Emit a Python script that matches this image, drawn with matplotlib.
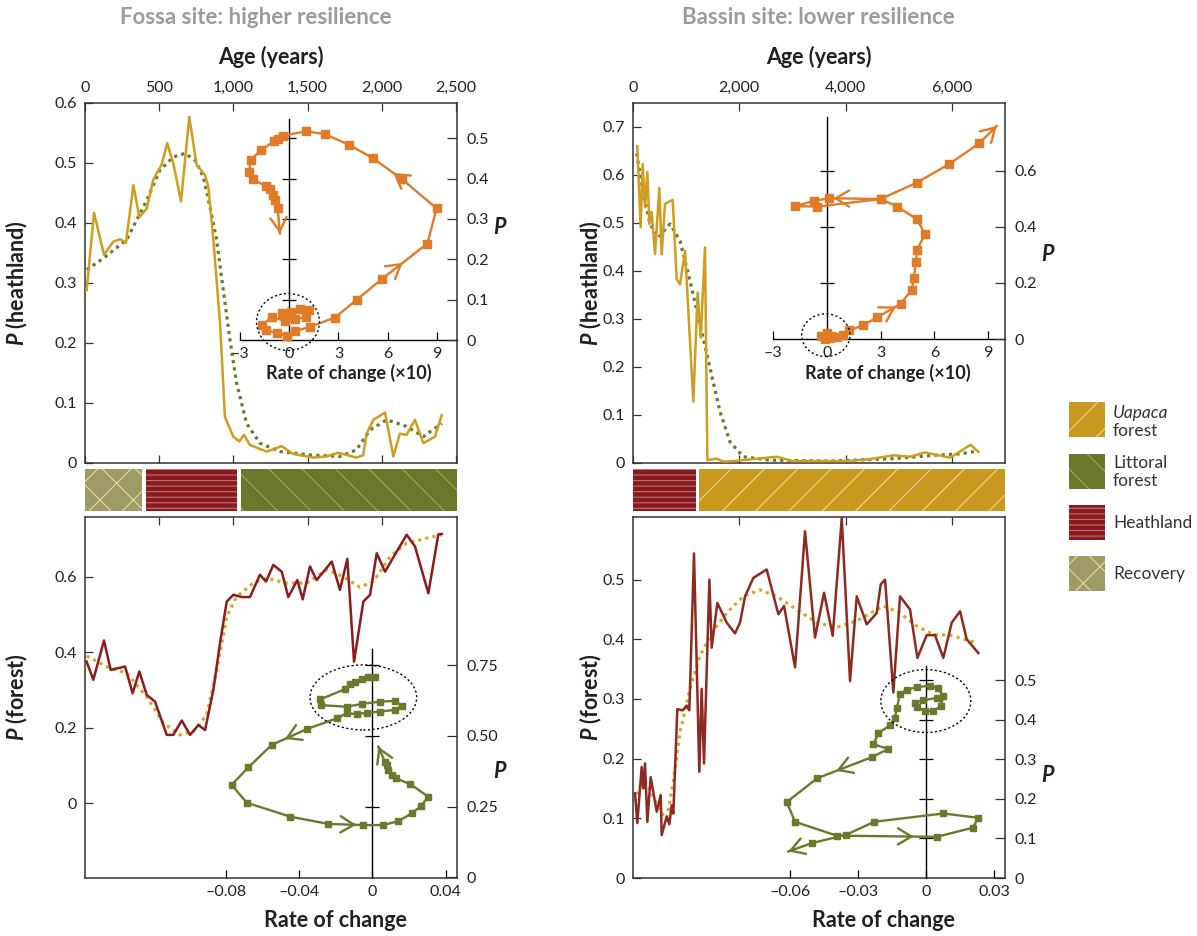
import numpy as np
import matplotlib
matplotlib.use('Agg')
import matplotlib.pyplot as plt
from matplotlib.patches import Ellipse, Rectangle
from matplotlib.ticker import FuncFormatter, FixedLocator, FixedFormatter

plt.rcParams['font.family'] = ['Lato', 'DejaVu Sans']
plt.rcParams['mathtext.fontset'] = 'custom'
plt.rcParams['mathtext.it'] = 'Lato:italic:bold'
plt.rcParams['mathtext.rm'] = 'Lato:bold'
plt.rcParams['hatch.linewidth'] = 0.8

# ---------------- DATA ----------------
# Fossa site: P(heathland) vs age
fossa_heath_age = [11, 61, 128, 191, 236, 276, 326, 366, 416, 460, 516, 554, 595, 647, 703, 752, 808, 831,
                   865, 910, 943, 999, 1040, 1071, 1112, 1224, 1325, 1404, 1538, 1628, 1707, 1830, 1875,
                   1898, 1943, 2022, 2078, 2122, 2167, 2224, 2280, 2359, 2404]
fossa_heath_p = [0.288, 0.417, 0.347, 0.369, 0.373, 0.367, 0.463, 0.41, 0.424, 0.472, 0.497, 0.533, 0.5,
                 0.436, 0.577, 0.497, 0.48, 0.461, 0.372, 0.233, 0.077, 0.044, 0.036, 0.047, 0.03, 0.019,
                 0.028, 0.015, 0.009, 0.011, 0.017, 0.009, 0.013, 0.049, 0.072, 0.084, 0.011, 0.049, 0.047,
                 0.072, 0.033, 0.044, 0.08]
fossa_heath_smooth_age = [11, 123, 281, 416, 505, 595, 674, 741, 797, 842, 887, 932, 977, 1022, 1089, 1179,
                          1314, 1538, 1718, 1830, 1920, 2033, 2167, 2280, 2404]
fossa_heath_smooth_p = [0.322, 0.341, 0.372, 0.438, 0.488, 0.51, 0.516, 0.505, 0.477, 0.427, 0.372, 0.288,
                        0.205, 0.133, 0.066, 0.033, 0.019, 0.013, 0.011, 0.022, 0.055, 0.072, 0.061, 0.044,
                        0.066]
# Fossa inset: rate of change (x10) vs P(heathland)
fossa_heath_rate = [-0.46, 0.08, 0.65, 1.2, 1.0, 0.35, -0.26, -1.07, -1.68, -1.42, -0.77, -0.16, 0.35, 1.26,
                    2.79, 4.11, 5.67, 8.42, 8.99, 6.89, 5.12, 3.66, 2.18, 1.02, -0.37, -0.67, -0.91, -1.74,
                    -2.34, -2.44, -2.23, -1.42, -1.18, -1.01, -0.87, -0.71, -0.57]
fossa_heath_phase_p = [0.068, 0.069, 0.078, 0.074, 0.058, 0.052, 0.048, 0.057, 0.037, 0.025, 0.017, 0.011,
                       0.022, 0.033, 0.056, 0.1, 0.152, 0.239, 0.326, 0.398, 0.45, 0.483, 0.51, 0.517, 0.506,
                       0.499, 0.493, 0.47, 0.446, 0.417, 0.399, 0.381, 0.373, 0.359, 0.347, 0.328, 0.264]
fossa_heath_arrows = [(16, 0.45), (19, 0.31)]

# Fossa site: P(forest) vs age
fossa_forest_age = [11, 56, 128, 173, 270, 321, 366, 416, 472, 551, 595, 652, 708, 764, 809, 865, 910, 955,
                    1000, 1056, 1112, 1179, 1220, 1269, 1326, 1370, 1431, 1467, 1516, 1561, 1663, 1718, 1768,
                    1813, 1876, 1921, 1966, 2022, 2100, 2168, 2224, 2314, 2381, 2404]
fossa_forest_p = [0.375, 0.327, 0.431, 0.353, 0.362, 0.291, 0.349, 0.287, 0.269, 0.181, 0.181, 0.219, 0.181,
                  0.207, 0.194, 0.3, 0.424, 0.534, 0.552, 0.546, 0.546, 0.605, 0.587, 0.631, 0.613, 0.546,
                  0.591, 0.54, 0.627, 0.591, 0.64, 0.565, 0.647, 0.375, 0.534, 0.552, 0.662, 0.613, 0.666,
                  0.711, 0.68, 0.556, 0.712, 0.713]
fossa_forest_smooth_age = [11, 146, 281, 416, 528, 640, 730, 820, 888, 955, 1022, 1134, 1224, 1359, 1494,
                           1629, 1741, 1853, 1943, 2056, 2168, 2303, 2404]
fossa_forest_smooth_p = [0.39, 0.362, 0.344, 0.282, 0.212, 0.181, 0.19, 0.234, 0.353, 0.494, 0.547, 0.583,
                         0.596, 0.583, 0.583, 0.618, 0.6, 0.572, 0.587, 0.653, 0.689, 0.702, 0.711]
fossa_forest_rate = [0.0015, -0.0022, -0.0058, -0.0094, -0.0122, -0.0149, -0.0285, -0.0282, -0.014, -0.0058,
                     0.0042, 0.0124, 0.016, 0.0124, 0.0042, -0.003, -0.0085, -0.014, -0.0194, -0.0358,
                     -0.0549, -0.0676, -0.0767, -0.0685, -0.0449, -0.024, -0.0049, 0.006, 0.0142, 0.0215,
                     0.0264, 0.0306, 0.0206, 0.0129, 0.0106, 0.0087, 0.0079, 0.0069, 0.0033]
fossa_forest_phase_p = [0.709, 0.707, 0.70, 0.692, 0.683, 0.665, 0.629, 0.609, 0.603, 0.613, 0.621, 0.624,
                        0.606, 0.592, 0.586, 0.582, 0.577, 0.58, 0.562, 0.524, 0.468, 0.389, 0.327, 0.264,
                        0.215, 0.189, 0.185, 0.185, 0.199, 0.226, 0.252, 0.285, 0.33, 0.35, 0.362, 0.38,
                        0.397, 0.409, 0.462]
fossa_forest_arrows = [(19, 0.62), (25, 0.8)]

# Bassin site: P(heathland) vs age
bassin_heath_age = [81, 144, 182, 226, 270, 308, 351, 414, 496, 540, 602, 747, 822, 885, 979, 1135, 1217,
                    1274, 1355, 1399, 1575, 1700, 1900, 2328, 2704, 3000, 4022, 4460, 4899, 5213, 5495, 5966,
                    6355, 6499]
bassin_heath_p = [0.66, 0.491, 0.623, 0.533, 0.606, 0.498, 0.523, 0.435, 0.573, 0.435, 0.54, 0.548, 0.383,
                  0.372, 0.442, 0.128, 0.355, 0.261, 0.449, 0.006, 0.009, 0.003, 0.004, 0.009, 0.013, 0.004,
                  0.004, 0.008, 0.016, 0.013, 0.022, 0.011, 0.038, 0.023]
bassin_heath_smooth_age = [69, 194, 320, 477, 696, 885, 1073, 1261, 1449, 1637, 1826, 2076, 2565, 3695,
                           4899, 5652, 6154, 6499]
bassin_heath_smooth_p = [0.645, 0.561, 0.498, 0.47, 0.498, 0.463, 0.379, 0.289, 0.198, 0.107, 0.044, 0.013,
                         0.006, 0.004, 0.009, 0.016, 0.019, 0.025]
bassin_heath_rate = [-0.3, 0.0, 0.25, -0.1, 0.2, 0.56, 0.93, 1.26, 2.04, 2.82, 4.12, 4.73, 4.86, 4.96, 5.04,
                     5.47, 5.01, 3.93, 3.0, 0.14, -0.71, -1.76, -0.52, 3.0, 5.01, 6.83, 8.5, 9.47]
bassin_heath_phase_p = [0.012, 0.022, 0.012, 0.0, 0.004, 0.009, 0.015, 0.031, 0.05, 0.078, 0.126, 0.175,
                        0.219, 0.274, 0.318, 0.375, 0.428, 0.472, 0.499, 0.502, 0.492, 0.474, 0.472, 0.499,
                        0.557, 0.624, 0.698, 0.759]
bassin_heath_arrows = [(9, 0.8), (18, 0.92)]

# Bassin site: P(forest) vs age
bassin_forest_age = [38, 81, 163, 194, 226, 270, 333, 446, 521, 540, 634, 684, 728, 759, 834, 935, 1010,
                     1060, 1148, 1248, 1292, 1336, 1437, 1481, 1587, 1763, 1920, 2014, 2108, 2265, 2516,
                     2735, 2843, 3049, 3237, 3425, 3595, 3758, 3928, 4084, 4210, 4398, 4586, 4661, 4743,
                     4899, 5025, 5213, 5351, 5527, 5683, 5840, 5998, 6154, 6280, 6499]
bassin_forest_p = [0.142, 0.092, 0.186, 0.15, 0.192, 0.094, 0.169, 0.111, 0.139, 0.072, 0.103, 0.09, 0.122,
                   0.108, 0.283, 0.281, 0.289, 0.281, 0.544, 0.178, 0.317, 0.192, 0.5, 0.386, 0.461, 0.428,
                   0.41, 0.428, 0.472, 0.503, 0.517, 0.442, 0.456, 0.353, 0.581, 0.403, 0.478, 0.406, 0.603,
                   0.33, 0.472, 0.425, 0.444, 0.492, 0.5, 0.311, 0.472, 0.45, 0.369, 0.407, 0.407, 0.369,
                   0.428, 0.447, 0.4, 0.377]
bassin_forest_smooth_age = [38, 163, 320, 508, 634, 759, 885, 1073, 1261, 1481, 1763, 2076, 2390, 2704,
                            3080, 3457, 3833, 4210, 4712, 5025, 5339, 5652, 5966, 6468]
bassin_forest_smooth_p = [0.128, 0.161, 0.15, 0.111, 0.1, 0.161, 0.244, 0.317, 0.372, 0.411, 0.444, 0.472,
                          0.483, 0.472, 0.45, 0.428, 0.42, 0.431, 0.456, 0.444, 0.422, 0.408, 0.407, 0.394]
bassin_forest_rate = [0.0047, -0.0012, -0.0049, -0.0041, -0.0004, 0.0032, 0.0065, 0.0076, 0.0054, 0.0018,
                      -0.0041, -0.0085, -0.0115, -0.0129, -0.0137, -0.0159, -0.021, -0.0232, -0.0166, -0.024,
                      -0.048, -0.0614, -0.0578, -0.0394, 0.0047, 0.0206, 0.0231, 0.0076, -0.0229, -0.0353,
                      -0.0504, -0.0607]
bassin_forest_phase_p = [0.455, 0.449, 0.443, 0.432, 0.422, 0.422, 0.434, 0.459, 0.479, 0.486, 0.482, 0.476,
                         0.464, 0.43, 0.405, 0.386, 0.366, 0.338, 0.326, 0.305, 0.252, 0.192, 0.142, 0.107,
                         0.104, 0.127, 0.152, 0.163, 0.142, 0.109, 0.088, 0.067]
bassin_forest_arrows = [(19, 0.65), (23, 0.77)]

# Vegetation phases (start age, end age, type)
fossa_phases = [(0, 382, 'Recovery'), (411, 1022, 'Heathland'), (1051, 2507, 'Littoral forest')]
bassin_phases = [(0, 1180, 'Heathland'), (1241, 7000, 'Uapaca forest')]

legend_items = ['Uapaca forest', 'Littoral forest', 'Heathland', 'Recovery']

# ---------------- STYLE ----------------
W, H = 1197, 936
GOLD = '#CF9D1F'
OLIVE = '#687A2B'
DRED = '#8A1C1E'
ORANGE = '#E07B2A'
FRAME = '#333333'
TXT = '#231f20'
LAB = 15.5
phase_style = {
    'Uapaca forest': dict(fc='#C9991F', hatch='/', hc='#EBD59A'),
    'Littoral forest': dict(fc='#6A782B', hatch='\\', hc='#9AA66A'),
    'Heathland': dict(fc='#8A1A1E', hatch='---', hc='#B77476'),
    'Recovery': dict(fc='#9E9B66', hatch='x', hc='#E0DC9C'),
}
EN = '\u2013'


def rect(l, t, r, b):
    return [l / W, 1 - b / H, (r - l) / W, (b - t) / H]


def pfmt(v, pos=None):
    return '0' if abs(v) < 1e-12 else f'{v:g}'


def style_main(ax, xlim, ylim, xticks, yticks, top_labels, bottom_ticks):
    ax.set_xlim(xlim)
    ax.set_ylim(ylim)
    for s in ax.spines.values():
        s.set_color(FRAME)
        s.set_linewidth(1.1)
    ax.set_xticks(xticks)
    ax.xaxis.set_major_formatter(FuncFormatter(lambda v, p: f'{int(round(v)):,}'))
    ax.set_yticks(yticks)
    ax.yaxis.set_major_formatter(FuncFormatter(pfmt))
    ax.tick_params(axis='both', direction='in', length=6, width=0.9, color=FRAME,
                   labelcolor=TXT, labelsize=11.5, pad=6)
    ax.tick_params(axis='x', top=True, bottom=bottom_ticks, labeltop=top_labels, labelbottom=False)
    ax.tick_params(axis='y', left=True, right=False)


def overlay(rpos, xlim, ylim, xticks, xlabels, rticks, rlabels, vtop, hline_left, cross_ticks):
    axo = fig.add_axes(rpos, facecolor='none')
    axo.set_xlim(xlim)
    axo.set_ylim(ylim)
    axo.spines['top'].set_visible(False)
    axo.spines['right'].set_visible(False)
    axo.spines['left'].set_position(('data', 0))
    axo.spines['left'].set_bounds(0, vtop)
    axo.spines['left'].set_color('black')
    axo.spines['left'].set_linewidth(1.0)
    if hline_left is not None:
        axo.spines['bottom'].set_position(('data', 0))
        axo.spines['bottom'].set_bounds(hline_left, xlim[1])
        axo.spines['bottom'].set_color('black')
        axo.spines['bottom'].set_linewidth(1.0)
    else:
        axo.spines['bottom'].set_visible(False)
    axo.xaxis.set_major_locator(FixedLocator(xticks))
    axo.xaxis.set_major_formatter(FixedFormatter(xlabels))
    axo.tick_params(axis='x', direction='in', length=6, width=0.9, color='black',
                    labelcolor=TXT, labelsize=11.5, pad=5)
    axo.set_yticks(cross_ticks)
    axo.tick_params(axis='y', direction='inout', length=10, width=0.9, color='black',
                    labelleft=False, right=False)
    axr = axo.twinx()
    axr.set_ylim(ylim)
    for s in axr.spines.values():
        s.set_visible(False)
    axr.yaxis.set_major_locator(FixedLocator(rticks))
    axr.yaxis.set_major_formatter(FixedFormatter(rlabels))
    axr.tick_params(axis='y', direction='in', length=7, width=0.9, color=FRAME,
                    labelcolor=TXT, labelsize=11.5, pad=7)
    return axo


def trajectory(ax, xs, ys, color, arrows, ms):
    ax.plot(xs, ys, color=color, lw=1.7, solid_joinstyle='round', zorder=3)
    ax.plot(xs[:-1], ys[:-1], 's', color=color, ms=ms, zorder=4)
    segs = list(arrows) + [(len(xs) - 2, 1.0)]
    for i, f in segs:
        x0, y0, x1, y1 = xs[i], ys[i], xs[i + 1], ys[i + 1]
        tx, ty = x0 + f * (x1 - x0), y0 + f * (y1 - y0)
        bx, by = tx - 0.05 * (x1 - x0), ty - 0.05 * (y1 - y0)
        ax.annotate('', xy=(tx, ty), xytext=(bx, by), zorder=5,
                    arrowprops=dict(arrowstyle='->,head_length=0.75,head_width=0.45', color=color,
                                    lw=1.7, shrinkA=0, shrinkB=0, mutation_scale=13))


def ring(ax, cx, cy, w, h):
    ax.add_patch(Ellipse((cx, cy), w, h, fill=False, ls=(0, (1.5, 1.8)), lw=1.0, color='black', zorder=6))


def phase_band(rpos, xlim, phases):
    axb = fig.add_axes(rpos)
    axb.set_xlim(xlim)
    axb.set_ylim(-0.5, 0.5)
    axb.axis('off')
    for s, e, name in phases:
        st = phase_style[name]
        axb.barh(0, e - s, left=s, height=1, color=st['fc'], hatch=st['hatch'],
                 edgecolor=st['hc'], linewidth=0)


def ylab(ax, x, text):
    ax.text(x, 0.5, text, transform=ax.transAxes, rotation=90, ha='center', va='center',
            fontsize=LAB, fontweight='bold', color=TXT)


fig = plt.figure(figsize=(W / 100, H / 100), dpi=100)

# ===== Fossa top =====
ax1 = fig.add_axes(rect(85, 103, 457, 463))
style_main(ax1, (0, 2507), (0, 0.6), [0, 500, 1000, 1500, 2000, 2500], np.arange(0, 0.61, 0.1), True, True)
ax1.plot(fossa_heath_age, fossa_heath_p, color=GOLD, lw=1.8, zorder=3)
ax1.plot(fossa_heath_smooth_age, fossa_heath_smooth_p, color=OLIVE, lw=2.3, ls=(0, (1, 1.3)), zorder=2)
ax1.text(0.5, 1.128, 'Age (years)', transform=ax1.transAxes, ha='center', va='center',
         fontsize=LAB, fontweight='bold', color=TXT)
ylab(ax1, -0.183, r'$P$ (heathland)')

ax1i = overlay(rect(85, 103, 457, 463), (-12.46, 10.23), (-0.304, 0.587), [-3, 0, 3, 6, 9],
               [EN + '3', '0', '3', '6', '9'], np.arange(0, 0.51, 0.1), ['0', '0.1', '0.2', '0.3', '0.4', '0.5'],
               0.547, -3, np.arange(0.1, 0.51, 0.1))
trajectory(ax1i, fossa_heath_rate, fossa_heath_phase_p, ORANGE, fossa_heath_arrows, 5.2)
ring(ax1i, -0.08, 0.045, 3.84, 0.141)
ax1i.text(0.71, 0.25, 'Rate of change (\u00d710)', transform=ax1i.transAxes, ha='center', va='center',
          fontsize=13, fontweight='bold', color=TXT)
ax1i.text(1.116, 0.653, r'$P$', transform=ax1i.transAxes, ha='center', va='center', fontsize=LAB, color=TXT)

# ===== Bassin top =====
ax2 = fig.add_axes(rect(633, 103, 1005, 463))
style_main(ax2, (0, 7000), (0, 0.75), [0, 2000, 4000, 6000], np.arange(0, 0.71, 0.1), True, True)
ax2.plot(bassin_heath_age, bassin_heath_p, color=GOLD, lw=1.8, zorder=3)
ax2.plot(bassin_heath_smooth_age, bassin_heath_smooth_p, color=OLIVE, lw=2.3, ls=(0, (1, 1.3)), zorder=2)
ax2.text(0.5, 1.128, 'Age (years)', transform=ax2.transAxes, ha='center', va='center',
         fontsize=LAB, fontweight='bold', color=TXT)
ylab(ax2, -0.112, r'$P$ (heathland)')

ax2i = overlay(rect(633, 103, 1005, 463), (-10.79, 9.93), (-0.441, 0.841), [-3, 0, 3, 6, 9],
               [EN + '3', '0', '3', '6', '9'], [0, 0.2, 0.4, 0.6], ['0', '0.2', '0.4', '0.6'],
               0.79, -3, [0.2, 0.4, 0.6])
trajectory(ax2i, bassin_heath_rate, bassin_heath_phase_p, ORANGE, bassin_heath_arrows, 5.2)
ring(ax2i, -0.05, 0.014, 2.69, 0.152)
ax2i.text(0.685, 0.25, 'Rate of change (\u00d710)', transform=ax2i.transAxes, ha='center', va='center',
          fontsize=13, fontweight='bold', color=TXT)
ax2i.text(1.116, 0.58, r'$P$', transform=ax2i.transAxes, ha='center', va='center', fontsize=LAB, color=TXT)

# ===== Phase bands =====
phase_band(rect(85, 469, 457, 511), (0, 2507), fossa_phases)
phase_band(rect(633, 469, 1005, 511), (0, 7000), bassin_phases)

# ===== Fossa bottom =====
ax3 = fig.add_axes(rect(85, 517, 457, 878))
style_main(ax3, (0, 2507), (-0.198, 0.758), [500, 1000, 1500, 2000], [0, 0.2, 0.4, 0.6], False, False)
ax3.plot(fossa_forest_age, fossa_forest_p, color=DRED, lw=1.8, zorder=3)
ax3.plot(fossa_forest_smooth_age, fossa_forest_smooth_p, color='#D9A52A', lw=2.3, ls=(0, (1, 1.3)), zorder=2)
ylab(ax3, -0.183, r'$P$ (forest)')

ax3i = overlay(rect(85, 517, 457, 878), (-0.1567, 0.0462), (-0.002, 1.2735), [-0.08, -0.04, 0, 0.04],
               [EN + '0.08', EN + '0.04', '0', '0.04'], [0, 0.25, 0.5, 0.75], ['0', '0.25', '0.50', '0.75'],
               0.807, None, [0.25, 0.5, 0.75])
trajectory(ax3i, fossa_forest_rate, fossa_forest_phase_p, OLIVE, fossa_forest_arrows, 5.0)
ring(ax3i, -0.0049, 0.636, 0.0582, 0.23)
ax3i.text(0.672, -0.119, 'Rate of change', transform=ax3i.transAxes, ha='center', va='center',
          fontsize=LAB, fontweight='bold', color=TXT)
ax3i.text(1.116, 0.296, r'$P$', transform=ax3i.transAxes, ha='center', va='center', fontsize=LAB, color=TXT)

# ===== Bassin bottom =====
ax4 = fig.add_axes(rect(633, 517, 1005, 878))
style_main(ax4, (0, 7000), (0, 0.605), [2000, 4000, 6000], np.arange(0, 0.51, 0.1), False, False)
ax4.plot(bassin_forest_age, bassin_forest_p, color='#8E2A22', lw=1.8, zorder=3)
ax4.plot(bassin_forest_smooth_age, bassin_forest_smooth_p, color='#D9A52A', lw=2.3, ls=(0, (1, 1.3)), zorder=2)
ylab(ax4, -0.112, r'$P$ (forest)')

ax4i = overlay(rect(633, 517, 1005, 878), (-0.1292, 0.0348), (0, 0.912), [-0.06, -0.03, 0, 0.03],
               [EN + '0.06', EN + '0.03', '0', '0.03'], np.arange(0, 0.51, 0.1),
               ['0', '0.1', '0.2', '0.3', '0.4', '0.5'], 0.535, None, np.arange(0.1, 0.51, 0.1))
trajectory(ax4i, bassin_forest_rate, bassin_forest_phase_p, OLIVE, bassin_forest_arrows, 5.0)
ring(ax4i, -0.0001, 0.447, 0.0397, 0.159)
ax4i.text(0.672, -0.119, 'Rate of change', transform=ax4i.transAxes, ha='center', va='center',
          fontsize=LAB, fontweight='bold', color=TXT)
ax4i.text(1.116, 0.285, r'$P$', transform=ax4i.transAxes, ha='center', va='center', fontsize=LAB, color=TXT)

# ===== Titles =====
fig.text(256 / W, 1 - 18 / H, 'Fossa site: higher resilience', ha='center', va='center', fontsize=16,
         fontweight='bold', color='#9B9B9B')
fig.text(818 / W, 1 - 18 / H, 'Bassin site: lower resilience', ha='center', va='center', fontsize=16,
         fontweight='bold', color='#9B9B9B')

# ===== Legend =====
axL = fig.add_axes(rect(1060, 390, 1197, 600))
axL.set_xlim(1060, 1197)
axL.set_ylim(600, 390)
axL.axis('off')
leg_tops = [402, 454, 505, 556]
for name, top in zip(legend_items, leg_tops):
    st = phase_style[name]
    axL.add_patch(Rectangle((1069, top), 36, 35, facecolor=st['fc'], hatch=st['hatch'],
                            edgecolor=st['hc'], linewidth=0))
axL.text(1113, 412.5, 'Uapaca', style='italic', fontsize=12.5, color='#333333', va='center')
axL.text(1113, 430.5, 'forest', fontsize=12.5, color='#333333', va='center')
axL.text(1113, 462.5, 'Littoral', fontsize=12.5, color='#333333', va='center')
axL.text(1113, 480.5, 'forest', fontsize=12.5, color='#333333', va='center')
axL.text(1113, 522.5, 'Heathland', fontsize=12.5, color='#333333', va='center')
axL.text(1113, 573.5, 'Recovery', fontsize=12.5, color='#333333', va='center')

fig.savefig('out.png', dpi=100)
